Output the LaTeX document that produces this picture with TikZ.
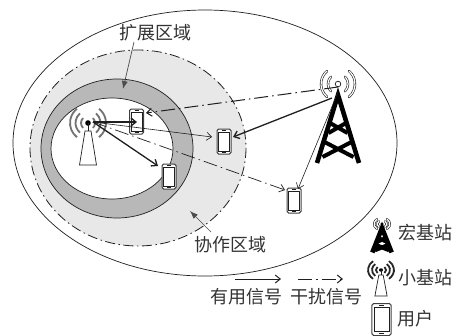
\documentclass[tikz,border=0pt]{standalone}
\usepackage{fontspec}
\setmainfont{Noto Sans CJK SC}
\usetikzlibrary{arrows.meta}
\definecolor{inkc}{gray}{0.12}
\definecolor{ringc}{gray}{0.72}
\definecolor{zonec}{gray}{0.91}
\colorlet{arcc}{black!55}
\tikzset{
  x=1pt,y=-1pt,
  lab/.style={font=\fontsize{18}{20}\selectfont,text=black!80,inner sep=0pt},
  barb/.style={-{Straight Barb[length=5pt,width=8pt]}},
  thicksig/.style={barb,draw=inkc,line width=1.3pt},
  thinsig/.style={barb,draw=inkc,line width=0.6pt},
  intf/.style={barb,draw=inkc,line width=1pt,dash pattern=on 14pt off 4pt on 1.5pt off 4pt},
  zoneline/.style={draw=inkc,line width=0.8pt,dash pattern=on 10pt off 3.5pt on 1.5pt off 3.5pt},
  pointer/.style={-{Latex[length=8pt,width=6pt]},draw=black!70,line width=0.7pt},
  phone/.pic={
    \draw[draw=black!75,line width=1pt,fill=white,rounded corners=1.6pt] (-7,-12.5) rectangle (7,12.5);
    \draw[draw=inkc,line width=0.6pt,fill=white] (-5.4,-9.5) rectangle (5.4,9.5);
    \draw[inkc,line width=0.5pt] (-2,-11) -- (2,-11) (-2,11) -- (2,11);
  },
  smallbs/.pic={
    \draw[draw=inkc,line width=0.7pt,fill=white] (-3,8) -- (3,8) -- (8.5,42) -- (-8.5,42) -- cycle;
    \foreach \r/\a in {7/45,12.5/50,18/52}{
      \draw[arcc,line width=1.8pt] (\a:\r) arc[start angle=\a,end angle=-\a,radius=\r];
      \draw[arcc,line width=1.8pt] (180-\a:\r) arc[start angle=180-\a,end angle=180+\a,radius=\r];
    }
    \fill[black] (0,0) circle (2.8);
    \draw[inkc,line width=1pt] (0,0) -- (0,8);
  },
  macrobs/.pic={
    \draw[draw=black,line width=0.6pt,fill=white] (0,0) circle (2.8);
    \foreach \r/\a in {10/46,17/50}{
      \draw[inkc,line width=2.4pt,line cap=round] (\a:\r) arc[start angle=\a,end angle=-\a,radius=\r];
      \draw[white,line width=1.2pt,line cap=round] (\a:\r) arc[start angle=\a,end angle=-\a,radius=\r];
      \draw[inkc,line width=2.4pt,line cap=round] (180-\a:\r) arc[start angle=180-\a,end angle=180+\a,radius=\r];
      \draw[white,line width=1.2pt,line cap=round] (180-\a:\r) arc[start angle=180-\a,end angle=180+\a,radius=\r];
    }
    \draw[black,line width=4.6pt,line join=miter] (-21,79) -- (0,11) -- (21,79);
    \draw[black,line width=4pt] (-8,39) -- (9.5,49) (8,39) -- (-9.5,49) (-13.5,58) -- (15.5,73) (13.5,58) -- (-15.5,73);
  },
}
\begin{document}
\begin{tikzpicture}
\useasboundingbox (0,0) rectangle (452,335);
\fill[white] (0,0) rectangle (452,335);
% regions
\draw[inkc,line width=0.7pt,fill=white] (205,143) ellipse [x radius=192,y radius=133];
\draw[zoneline,fill=zonec] (138,148) ellipse [x radius=108,y radius=98];
\draw[inkc,line width=0.7pt,fill=ringc] (117,148.5) ellipse [x radius=76,y radius=69.5];
\draw[inkc,line width=0.7pt,fill=white] (112,148.5) ellipse [x radius=61,y radius=50.5];
% equipment
\pic at (88,123) {smallbs};
\pic at (338,84) {macrobs};
\coordinate (sb) at (93,122);
\coordinate (mb) at (338,87);
\coordinate (mbb) at (332,98);
\coordinate (mbc) at (338,92);
\pic at (136.5,121.5) {phone};
\pic at (224,141.5) {phone};
\pic at (169,176.5) {phone};
\pic at (294,200.5) {phone};
\coordinate (ue1) at (137,122);
\coordinate (ue1r) at (146,113);
\coordinate (ue2) at (212,137);
\coordinate (ue2r) at (233,137);
\coordinate (ue3) at (158,166);
\coordinate (ue4) at (285,190);
\coordinate (ue4r) at (298,189);
% connectors
\draw[thicksig] (sb) -- (ue1);
\draw[thinsig] (sb) -- (ue2);
\draw[thicksig] (sb) -- (ue3);
\draw[intf,line width=0.7pt] (sb) -- (ue4);
\draw[intf] (mb) -- (ue1r);
\draw[thicksig] (mbb) -- (ue2r);
\draw[thinsig] (mbc) -- (ue4r);
% labels
\node[lab] (ext) at (155,33) {扩展区域};
\node[lab] (coop) at (230,245) {协作区域};
\coordinate (extp) at (123,89);
\coordinate (coopp) at (190,211);
\coordinate (exts) at (134,42);
\coordinate (coops) at (211,232);
\draw[pointer] (exts) -- (extp);
\draw[pointer] (coops) -- (coopp);
% legend
\coordinate (la) at (235,279);
\coordinate (lb) at (281,279);
\coordinate (lc) at (298,279);
\coordinate (ld) at (343,279);
\draw[thicksig,line width=1pt] (la) -- (lb);
\draw[intf] (lc) -- (ld);
\node[lab] (useful) at (246,297) {有用信号};
\node[lab] (interf) at (326,297) {干扰信号};
\pic[xscale=0.46,yscale=0.36] at (382,224) {macrobs};
\colorlet{arcc}{black!85}
\pic[xscale=0.72,yscale=0.62] at (381,270) {smallbs};
\pic[xscale=1.36,yscale=1.28] at (381.5,319.5) {phone};
\node[lab] (macrol) at (425,233) {宏基站};
\node[lab] (smalll) at (425,278) {小基站};
\node[lab] (userl) at (415,319) {用户};
\end{tikzpicture}
\end{document}
